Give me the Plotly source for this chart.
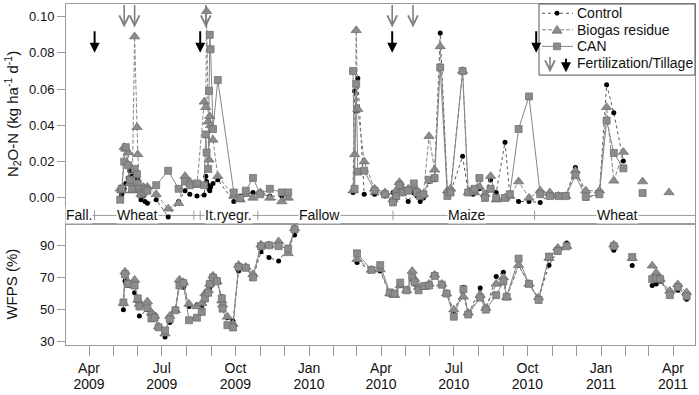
import plotly.graph_objects as go
import pandas as pd

# ---------------- data ----------------
n2o_dates = [
    "2009-05-10", "2009-05-12", "2009-05-15", "2009-05-17", "2009-05-20", "2009-05-22",
    "2009-05-25", "2009-05-28", "2009-05-31", "2009-06-01", "2009-06-03", "2009-06-05",
    "2009-06-08", "2009-06-10", "2009-06-13", "2009-06-24", "2009-07-09", "2009-07-22",
    "2009-07-30", "2009-08-05", "2009-08-14", "2009-08-23", "2009-08-25", "2009-08-26",
    "2009-08-28", "2009-08-29", "2009-08-30", "2009-08-31", "2009-09-03", "2009-09-09",
    "2009-09-29", "2009-10-07", "2009-10-14", "2009-10-23", "2009-11-01", "2009-11-13",
    "2009-11-28", "2009-12-06",
    "2010-01-20",
    "2010-02-25", "2010-02-27", "2010-03-01", "2010-03-03", "2010-03-11", "2010-03-24",
    "2010-04-06", "2010-04-16", "2010-04-20", "2010-04-24", "2010-04-28", "2010-05-05",
    "2010-05-12", "2010-05-16", "2010-05-20", "2010-05-24", "2010-05-31", "2010-06-07",
    "2010-06-14", "2010-06-23", "2010-06-27", "2010-07-12", "2010-07-19", "2010-07-25",
    "2010-07-27", "2010-08-02", "2010-08-09", "2010-08-16", "2010-08-23", "2010-09-03",
    "2010-09-09", "2010-09-20", "2010-10-03", "2010-10-17", "2010-10-29", "2010-11-09",
    "2010-11-18", "2010-11-30", "2010-12-13", "2010-12-30", "2011-01-08", "2011-01-17",
    "2011-01-29",
    "2011-02-10", "2011-02-22", "2011-03-10", "2011-03-27",
]
n2o_control = [
    0.000, 0.002, 0.005, 0.008, 0.011, 0.015, 0.012, 0.013, 0.011, 0.010, 0.004, -0.001,
    0.001, -0.002, -0.003, -0.001, -0.0105, -0.002, 0.004, 0.002, 0.001, 0.0016, 0.012, 0.009,
    0.007, 0.005, 0.004, 0.006, 0.008, 0.010, -0.002, 0.001, 0.002, 0.003, 0.002, 0.001,
    0.001, 0.002,
    None,
    0.003, 0.059, 0.048, 0.066, 0.002, 0.002, 0.001, 0.003, 0.000, 0.004, 0.003, -0.002,
    0.003, 0.001, -0.002, 0.000, 0.009, 0.010, 0.091, 0.003, 0.003, 0.023, 0.003, 0.002,
    0.003, 0.005, 0.002, 0.0098, 0.003, 0.0307, 0.002, -0.002, -0.002, -0.0025, 0.002, 0.001,
    0.001, 0.0168, 0.000, 0.002, 0.0624, 0.047, 0.0204,
    None, None, None, None,
]
n2o_biogas = [
    0.005, 0.004, 0.028, 0.027, 0.025, 0.008, 0.004, 0.089, 0.039, 0.024, 0.005, 0.002,
    0.006, 0.004, 0.006, 0.002, -0.006, -0.003, 0.012, 0.009, 0.007, 0.053, 0.050, 0.103,
    0.042, 0.021, 0.045, 0.040, 0.032, 0.012, 0.001, -0.001, 0.002, 0.000, 0.003, 0.000,
    -0.002, 0.000,
    None,
    0.004, 0.024, 0.0925, 0.049, 0.020, 0.005, 0.003, -0.001, 0.004, 0.0086, 0.005, 0.005,
    0.006, 0.004, 0.002, 0.002, 0.034, 0.0155, 0.0836, 0.004, 0.005, 0.070, 0.003, 0.003,
    0.003, 0.006, 0.002, 0.012, -0.001, 0.000, 0.001, 0.009, 0.000, 0.004, 0.003, 0.001,
    0.001, 0.015, 0.004, 0.004, 0.050, 0.0094, 0.0253,
    None, 0.009, None, 0.003,
]
n2o_can = [
    -0.001, 0.005, 0.020, 0.028, 0.018, 0.010, 0.005, 0.016, 0.013, 0.008, 0.005, 0.002,
    0.003, 0.005, 0.004, 0.007, 0.015, 0.005, 0.009, 0.007, 0.008, 0.007, 0.035, 0.025,
    0.016, 0.059, 0.090, 0.082, 0.038, 0.065, 0.003, 0.000, 0.004, 0.011, 0.002, 0.005,
    0.003, 0.003,
    None,
    0.070, 0.005, 0.063, 0.0145, 0.015, 0.004, 0.002, -0.0025, 0.001, 0.007, 0.003, 0.004,
    0.008, 0.003, 0.001, 0.002, 0.010, 0.011, 0.072, 0.001, 0.003, 0.070, 0.003, 0.004,
    0.005, 0.011, 0.000, 0.005, 0.000, 0.000, 0.002, 0.038, 0.056, 0.002, 0.001, 0.001,
    0.001, 0.0125, 0.0005, 0.002, 0.0427, 0.0248, 0.0163,
    None, 0.0027, None, None,
]

wfps_dates = [
    "2009-05-14", "2009-05-16", "2009-05-20", "2009-05-28", "2009-06-01", "2009-06-03",
    "2009-06-13", "2009-06-18", "2009-06-22", "2009-06-27", "2009-07-05", "2009-07-11",
    "2009-07-18", "2009-07-23", "2009-07-28", "2009-08-04", "2009-08-14", "2009-08-20",
    "2009-08-24", "2009-08-28", "2009-08-30", "2009-09-03", "2009-09-08", "2009-09-14",
    "2009-09-15", "2009-09-21", "2009-09-28", "2009-10-05", "2009-10-14", "2009-10-23",
    "2009-11-02", "2009-11-12", "2009-11-24", "2009-12-06", "2009-12-14",
    "2010-01-20",
    "2010-03-02", "2010-03-20", "2010-03-31", "2010-04-12", "2010-04-18", "2010-04-25",
    "2010-05-03", "2010-05-10", "2010-05-13", "2010-05-18", "2010-05-25", "2010-05-31",
    "2010-06-07", "2010-06-16", "2010-06-22", "2010-07-01", "2010-07-13", "2010-07-19",
    "2010-08-03", "2010-08-10", "2010-08-23", "2010-09-01", "2010-09-05", "2010-09-20",
    "2010-10-03", "2010-10-15", "2010-10-28", "2010-11-08", "2010-11-19",
    "2010-12-15", "2011-01-17", "2011-01-28", "2011-02-09", "2011-02-20",
    "2011-03-06", "2011-03-11", "2011-03-16", "2011-03-28", "2011-04-07", "2011-04-18",
]
wfps_control = [
    50.0, 68.0, 65.0, 60.5, 55.0, 46.0, 50.0, 48.5, 47.0, 39.0, 33.0, 42.0,
    50.0, 65.0, 64.0, 52.0, 53.0, 52.0, 56.0, 60.0, 64.0, 68.0, 68.0, 58.0,
    56.0, 45.0, 43.0, 74.0, 76.0, 70.0, 86.0, 82.4, 80.3, 88.0, 96.5,
    None,
    79.3, 74.7, 74.0, 59.5, 60.0, 65.0, 62.0, 70.0, 66.0, 62.0, 64.5, 65.0,
    71.0, 65.0, 60.0, 48.0, 64.0, 47.0, 63.5, 50.0, 70.6, 73.3, 58.0, 77.6,
    66.0, 57.0, 77.6, 87.0, 91.4,
    None, 87.0, None, 77.5, None,
    65.0, 66.0, 67.7, 59.0, 62.0, 56.4,
]
wfps_biogas = [
    54.0, 73.5, 67.0, 68.5, 56.0, 53.5, 55.0, 48.0, 46.0, 39.5, 35.0, 46.0,
    49.6, 68.6, 67.0, 53.5, 52.0, 54.0, 60.0, 62.0, 66.0, 71.0, 67.5, 55.5,
    53.0, 45.5, 41.0, 77.7, 76.5, 72.0, 90.4, 90.0, 92.4, 85.0, 100.5,
    None,
    81.3, 74.7, 75.0, 60.0, 59.0, 65.0, 62.0, 74.0, 69.0, 64.0, 64.0, 66.0,
    71.6, 66.0, 60.0, 50.0, 58.0, 48.0, 59.0, 51.0, 66.0, 70.0, 57.7, 77.7,
    66.0, 57.5, 82.0, 88.4, 89.5,
    None, 90.4, None, 82.0, None,
    77.3, 73.0, 69.0, 61.6, 65.7, 60.7,
]
wfps_can = [
    54.5, 72.0, 66.0, 65.0, 57.0, 52.0, 51.0, 44.5, 45.0, 39.0, 37.0, 44.0,
    49.6, 65.0, 66.5, 43.4, 45.0, 48.6, 57.0, 60.5, 66.0, 70.0, 67.7, 57.0,
    50.6, 40.3, 38.9, 76.5, 76.0, 70.0, 89.5, 90.0, 89.5, 88.0, 100.0,
    None,
    85.0, 74.7, 77.7, 60.7, 60.0, 66.8, 62.0, 70.2, 67.0, 62.0, 64.7, 65.0,
    71.0, 65.5, 60.0, 45.6, 62.7, 47.0, 57.5, 50.0, 59.0, 67.5, 58.0, 81.7,
    66.0, 56.0, 83.0, 86.5, 89.4,
    None, 89.5, None, 82.7, None,
    69.0, 69.5, 69.0, 59.0, 64.0, 58.3,
]

fertilization_dates = ["2009-05-15", "2009-05-28", "2009-08-25", "2010-04-15", "2010-05-11"]
tillage_dates = ["2009-04-08", "2009-08-18", "2010-04-15", "2010-10-12"]

crop_names = ["Fall.", "Wheat", "It.ryegr.", "Fallow", "Maize", "Wheat"]
crop_label_dates = ["2009-03-20", "2009-05-31", "2009-09-22", "2010-01-14", "2010-07-18",
                    "2011-01-21"]
crop_boundaries = ["2009-04-08", "2009-08-10", "2009-08-18", "2009-10-29", "2010-04-16",
                   "2010-10-10"]

n2o_ticks = [0.00, 0.02, 0.04, 0.06, 0.08, 0.10]
wfps_ticks = [30, 50, 70, 90]

series_names = ["Control", "Biogas residue", "CAN"]
arrow_label = "Fertilization/Tillage"

# ---------------- styling ----------------
FONT = "Liberation Sans, Arial, sans-serif"
AX = "#9a9a9a"
GRAY = "#8c8c8c"
EDGE = "#6a6a6a"
X_RANGE = ["2009-03-03 06:00", "2011-04-28 12:00"]
L, R, T, B = 66, 695, 3, 353          # plot area in pixels
W, H = R - L, B - T
SPLIT = (B - 229) / H                  # bottom panel share of plot height


def px(x):
    return (x - L) / W


def py(y):
    return (B - y) / H


styles = {
    "Control": dict(line=dict(color="#555555", width=1, dash="dot"),
                    marker=dict(symbol="circle", size=5, color="black")),
    "Biogas residue": dict(line=dict(color="#858585", width=1, dash="4px,2px"),
                           marker=dict(symbol="triangle-up", size=9, color=GRAY,
                                       line=dict(color=EDGE, width=0.7))),
    "CAN": dict(line=dict(color="#858585", width=1),
                marker=dict(symbol="square", size=7, color=GRAY,
                            line=dict(color=EDGE, width=0.7))),
}

fig = go.Figure()
for name, yv in zip(series_names, [n2o_control, n2o_biogas, n2o_can]):
    fig.add_trace(go.Scatter(x=n2o_dates, y=yv, name=name, mode="lines+markers",
                             xaxis="x", yaxis="y", **styles[name]))
for name, yv in zip(series_names, [wfps_control, wfps_biogas, wfps_can]):
    fig.add_trace(go.Scatter(x=wfps_dates, y=yv, name=name, mode="lines+markers",
                             xaxis="x2", yaxis="y2", **styles[name]))
# helper trace for the year tick-label axis
fig.add_trace(go.Scatter(x=[None], y=[None], xaxis="x3", yaxis="y2", hoverinfo="skip"))

months = list(pd.date_range("2009-04-01", "2011-04-01", freq="MS"))
quarters = [m for m in months if m.month in (1, 4, 7, 10)]
month_text = [m.strftime("%b") for m in quarters]
year_text = [str(m.year) for m in quarters]

axis_common = dict(showline=True, linecolor=AX, linewidth=1, mirror=True, zeroline=False,
                   showgrid=False, tickcolor=AX)

fig.update_layout(
    width=699, height=395,
    margin=dict(l=L, r=699 - R, t=T, b=395 - B),
    paper_bgcolor="white", plot_bgcolor="white",
    font=dict(family=FONT, size=14, color="#111"),
    showlegend=False,
    xaxis=dict(domain=[0, 1], anchor="y", range=X_RANGE, type="date",
               showticklabels=False, ticks="", **axis_common),
    yaxis=dict(domain=[SPLIT, 1], anchor="x", range=[-0.01452, 0.107],
               tickvals=n2o_ticks, tickformat=".2f", ticks="outside", ticklen=8,
               tickfont=dict(family=FONT, size=13, color="#111"), **axis_common),
    xaxis2=dict(domain=[0, 1], anchor="y2", range=X_RANGE, type="date",
                tickvals=quarters, ticktext=month_text, ticks="outside", ticklen=10,
                minor=dict(tickmode="array", tickvals=months, ticks="outside", ticklen=10,
                           tickcolor=AX, showgrid=False),
                tickfont=dict(family=FONT, size=14, color="#111"), **axis_common),
    xaxis3=dict(overlaying="x2", anchor="y2", range=X_RANGE, type="date", side="bottom",
                tickvals=quarters, ticktext=year_text, ticks="", showline=False,
                showgrid=False, zeroline=False, ticklabelstandoff=29,
                tickfont=dict(family=FONT, size=14, color="#111")),
    yaxis2=dict(domain=[0, SPLIT], anchor="x2", range=[28, 103.15],
                tickvals=wfps_ticks, ticks="outside", ticklen=8,
                tickfont=dict(family=FONT, size=13, color="#111"), **axis_common),
)

# axis titles
fig.add_annotation(text="N<sub>2</sub>O-N (kg ha<sup>-1</sup> d<sup>-1</sup>)", textangle=-90,
                   xref="paper", yref="paper", x=px(12), y=(SPLIT + 1) / 2,
                   showarrow=False, font=dict(size=15), xanchor="center", yanchor="middle")
fig.add_annotation(text="WFPS (%)", textangle=-90, xref="paper", yref="paper",
                   x=px(12), y=SPLIT / 2, showarrow=False, font=dict(size=15),
                   xanchor="center", yanchor="middle")

# crop strip
STRIP_Y = py(220)
fig.add_shape(type="line", xref="paper", yref="paper", x0=0, x1=1, y0=STRIP_Y, y1=STRIP_Y,
              line=dict(color=AX, width=1), layer="below")
for s in crop_boundaries:
    fig.add_shape(type="line", xref="x", yref="paper", x0=s, x1=s,
                  y0=py(225), y1=py(215), line=dict(color=AX, width=1))
for name, d in zip(crop_names, crop_label_dates):
    fig.add_annotation(text=name, x=d, xref="x", y=STRIP_Y, yref="paper", showarrow=False,
                       bgcolor="white", font=dict(size=14), borderpad=0,
                       xanchor="center", yanchor="middle")

# fertilization / tillage arrows
GRAY_ARROW = dict(showarrow=True, arrowhead=5, arrowsize=1.2, arrowwidth=1.6,
                  arrowcolor="#808080", text="")
BLACK_ARROW = dict(showarrow=True, arrowhead=2, arrowsize=1, arrowwidth=2,
                   arrowcolor="black", text="")
for d in fertilization_dates:
    fig.add_annotation(x=d, xref="x", y=py(27), yref="paper", ax=0, ay=-24, **GRAY_ARROW)
for d in tillage_dates:
    fig.add_annotation(x=d, xref="x", y=py(53), yref="paper", ax=0, ay=-23, **BLACK_ARROW)

# ---------------- manual legend ----------------
fig.add_shape(type="rect", xref="paper", yref="paper", x0=px(539), x1=px(695),
              y0=py(76), y1=py(3), line=dict(color="#555555", width=1),
              fillcolor="white", layer="above")
rows = [12.5, 29.5, 46.5, 64]
for name, ry in zip(series_names, rows[:3]):
    st = styles[name]
    fig.add_shape(type="line", xref="paper", yref="paper", x0=px(542), x1=px(573),
                  y0=py(ry), y1=py(ry), layer="above",
                  line=dict(color=st["line"]["color"], width=1, dash=st["line"].get("dash", "solid")))
    fig.add_annotation(text=name, xref="paper", yref="paper", x=px(575), y=py(ry),
                       xanchor="left", yanchor="middle", showarrow=False, font=dict(size=14))
ry = rows[0]
fig.add_shape(type="circle", xref="paper", yref="paper", x0=px(554.5), x1=px(559.5),
              y0=py(ry + 2.5), y1=py(ry - 2.5), fillcolor="black", line=dict(width=0),
              layer="above")
ry = rows[1]
fig.add_shape(type="path", xref="paper", yref="paper", layer="above",
              path=f"M {px(557)},{py(ry - 4.5)} L {px(552)},{py(ry + 3.5)} L {px(562)},{py(ry + 3.5)} Z",
              fillcolor=GRAY, line=dict(color=EDGE, width=0.7))
ry = rows[2]
fig.add_shape(type="rect", xref="paper", yref="paper", x0=px(553.5), x1=px(560.5),
              y0=py(ry + 3.5), y1=py(ry - 3.5), fillcolor=GRAY, line=dict(color=EDGE, width=0.7),
              layer="above")
fig.add_annotation(text=arrow_label, xref="paper", yref="paper", x=px(575), y=py(rows[3]),
                   xanchor="left", yanchor="middle", showarrow=False, font=dict(size=14))
fig.add_annotation(x=px(550), xref="paper", y=py(73), yref="paper", ax=0, ay=-17, **GRAY_ARROW)
fig.add_annotation(x=px(566), xref="paper", y=py(73), yref="paper", ax=0, ay=-15, **BLACK_ARROW)

fig.write_html("out.html", config={"displayModeBar": False},
               post_script="document.body.style.margin='0px';")
